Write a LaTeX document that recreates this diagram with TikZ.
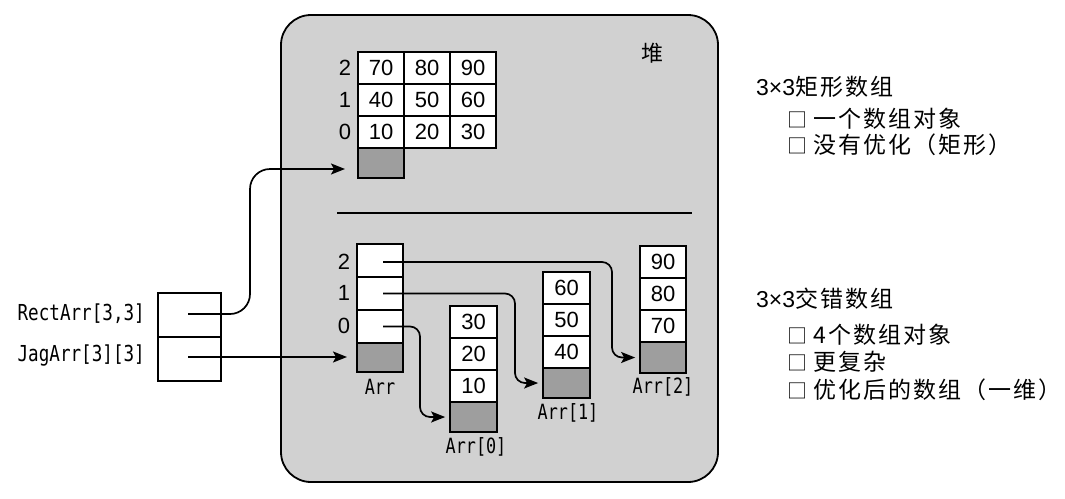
\documentclass[tikz,border=0pt]{standalone}
\usepackage{fontspec}
\setmainfont{Liberation Sans}
\setmonofont[FakeStretch=0.8]{DejaVu Sans Mono}
\newfontfamily\cjk[LetterSpace=9]{Noto Sans CJK SC}
\newfontfamily\cjkplain{Noto Sans CJK SC}
\usetikzlibrary{arrows.meta}
\tikzset{
  cell/.style={draw, line width=1.7pt, fill=white, minimum width=46pt, minimum height=32pt, inner sep=0pt, font=\fontsize{22}{22}\selectfont},
  nullcell/.style={cell, fill=black!38},
  ptr/.style={line width=1.7pt, -{Stealth[length=14pt,width=11pt,inset=3pt]}, rounded corners=10pt},
  mono/.style={font=\ttfamily\fontsize{21}{21}\selectfont, inner sep=0pt},
  bigmono/.style={font=\ttfamily\fontsize{22}{22}\selectfont, inner sep=0pt, anchor=east},
  idx/.style={font=\fontsize{22}{22}\selectfont, inner sep=0pt},
  note/.style={font=\cjk\fontsize{23}{23}\selectfont, anchor=west, inner sep=0pt},
  varbox/.style={draw, line width=1.7pt, minimum width=63pt, minimum height=44pt, inner sep=0pt},
  heap/.style={draw, line width=1.8pt, fill=black!18, rounded corners=30pt},
}
\newcommand{\tbox}{{\cjkplain\fontsize{20}{20}\selectfont □}\hspace{6pt}}
\newcommand{\nxn}{{\rmfamily\fontsize{23}{23}\selectfont 3×3}}
\begin{document}
\begin{tikzpicture}[x=1pt,y=-1pt]
\useasboundingbox (0,0) rectangle (1065,498);
% heap
\draw[heap] (281,15) rectangle (718,482);
\coordinate (divL) at (337,213);
\coordinate (divR) at (692,213);
\draw[line width=1.5pt] (divL) -- (divR);
\node[font=\cjkplain\fontsize{22}{22}\selectfont, inner sep=0pt] (heaplbl) at (652,53) {堆};
% rectangular array
\node[cell] (m20) at (381,68) {70};
\node[cell] (m21) at (427,68) {80};
\node[cell] (m22) at (473,68) {90};
\node[cell] (m10) at (381,100) {40};
\node[cell] (m11) at (427,100) {50};
\node[cell] (m12) at (473,100) {60};
\node[cell] (m00) at (381,132) {10};
\node[cell] (m01) at (427,132) {20};
\node[cell] (m02) at (473,132) {30};
\node[nullcell, minimum height=30pt] (mh) at (381,163) {};
\node[idx] (mr2) at (345,68) {2};
\node[idx] (mr1) at (345,100) {1};
\node[idx] (mr0) at (345,132) {0};
% jagged: Arr
\node[cell, minimum height=33pt] (a2) at (380,260.5) {};
\node[cell, minimum height=33pt] (a1) at (380,293.5) {};
\node[cell, minimum height=33pt] (a0) at (380,326.5) {};
\node[nullcell, minimum height=29pt] (ah) at (380,357.5) {};
\node[idx] (ar2) at (344,262) {2};
\node[idx] (ar1) at (344,293) {1};
\node[idx] (ar0) at (344,326) {0};
\node[mono] (lA) at (380,387) {Arr};
% Arr[0]
\node[cell, minimum width=47pt] (b2) at (473.5,322) {30};
\node[cell, minimum width=47pt] (b1) at (473.5,354) {20};
\node[cell, minimum width=47pt] (b0) at (473.5,386) {10};
\node[nullcell, minimum width=47pt, minimum height=30pt] (h0) at (473.5,417) {};
\node[mono] (l0) at (476,447) {Arr[0]};
% Arr[1]
\node[cell, minimum width=47pt] (c2) at (566.5,288) {60};
\node[cell, minimum width=47pt] (c1) at (566.5,320) {50};
\node[cell, minimum width=47pt] (c0) at (566.5,352) {40};
\node[nullcell, minimum width=47pt, minimum height=30pt] (h1) at (566.5,383) {};
\node[mono] (l1) at (568,413) {Arr[1]};
% Arr[2]
\node[cell] (d2) at (663,262) {90};
\node[cell] (d1) at (663,294) {80};
\node[cell] (d0) at (663,326) {70};
\node[nullcell, minimum height=31pt] (h2) at (663,357.5) {};
\node[mono] (l2) at (663,387) {Arr[2]};
% variables
\node[varbox] (rb) at (189.5,315) {};
\node[varbox] (jb) at (189.5,359) {};
\node[bigmono] (rl) at (145,314) {RectArr[3,3]};
\node[bigmono] (jl) at (145,356) {JagArr[3][3]};
\coordinate (rd) at (188,314);
\coordinate (jd) at (188,357);
\coordinate (rtip) at (345,169);
\coordinate (jtip) at (347,357);
\draw[ptr, rounded corners=20pt] (rd) -- (250,314) -- (250,169) -- (rtip);
\draw[ptr] (jd) -- (jtip);
% Arr pointers
\coordinate (p2) at (383,262);
\coordinate (p1) at (383,293.5);
\coordinate (p0) at (383,326.5);
\draw[ptr, shorten >=4pt] (p2) -- (612,262) |- (h2.west);
\draw[ptr, shorten >=4pt] (p1) -- (515,293.5) |- (h1.west);
\draw[ptr, shorten >=4pt] (p0) -- (420,326.5) |- (h0.west);
% notes
\node[note] (t1) at (756,87) {\nxn 矩形数组};
\node[note] (t1a) at (787,119) {\tbox 一个数组对象};
\node[note] (t1b) at (787,145) {\tbox 没有优化（矩形）};
\node[note] (t2) at (756,299) {\nxn 交错数组};
\node[note] (t2a) at (787,335) {\tbox 4个数组对象};
\node[note] (t2b) at (787,362) {\tbox 更复杂};
\node[note] (t2c) at (787,390) {\tbox 优化后的数组（一维）};
\end{tikzpicture}
\end{document}
